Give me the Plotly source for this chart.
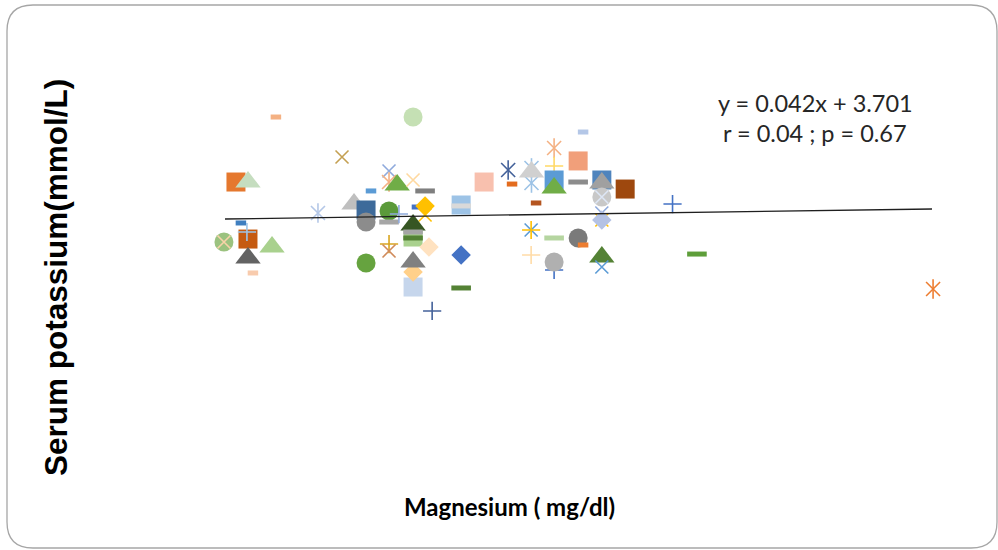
import plotly.graph_objects as go

# ---------------- data (one Excel series per point, drawing order) ----------------
magnesium = [
    1.344, 1.732, 1.531, 1.231, 1.265, 1.245, 1.265, 1.262, 1.197, 1.197,
    1.333, 1.265, 1.279, 1.463, 1.664, 1.664, 1.687, 1.732, 1.613, 1.766,
    1.565, 1.599, 1.599, 1.664, 1.664, 1.692, 1.743, 1.766, 1.766, 1.732,
    1.732, 1.732, 1.732, 1.777, 1.599, 1.664, 1.664, 1.732, 1.732, 1.732,
    1.786, 1.868, 1.868, 1.868, 1.868, 1.933, 2.001, 2.012, 2.067, 2.067,
    2.067, 2.131, 2.131, 2.131, 2.131, 2.213, 2.199, 2.199, 2.080, 2.266,
    2.266, 2.266, 2.266, 2.266, 2.266, 2.266, 2.332, 2.466, 2.066, 2.066,
    2.131, 2.199, 2.213, 2.066, 2.131, 2.131, 2.266, 2.266, 2.535, 3.203,
]
potassium = [
    4.608, 4.608, 4.272, 4.062, 4.062, 3.718, 3.583, 3.642, 3.558, 3.558,
    3.516, 3.424, 3.298, 3.802, 4.155, 4.062, 4.037, 4.079, 3.987, 3.987,
    3.877, 3.827, 3.726, 3.819, 3.726, 3.793, 3.852, 3.785, 3.861, 3.600,
    3.701, 3.642, 3.592, 3.516, 3.382, 3.541, 3.483, 3.180, 3.306, 3.390,
    2.979, 3.869, 3.861, 3.449, 3.172, 4.062, 4.163, 4.045, 4.180, 4.054,
    4.146, 4.348, 4.197, 4.079, 4.012, 4.482, 4.239, 4.062, 3.886, 4.079,
    4.054, 3.936, 3.936, 3.802, 3.743, 3.743, 4.003, 3.877, 3.659, 3.659,
    3.592, 3.592, 3.533, 3.449, 3.323, 3.390, 3.432, 3.348, 3.457, 3.163,
]

# regression shown on the chart
slope = 0.042
intercept = 3.701
trend_x = [1.2, 3.2]

eq_text = "y = 0.042x + 3.701"
stat_text = "r = 0.04 ; p = 0.67"
x_title = "Magnesium ( mg/dl)"
y_title = "Serum potassium(mmol/L)"

# ---------------- styles (marker kind, colour) per series ----------------
styles = [
    ("dashS", "#F4B183"), ("circle", "#C5E0B4"), ("x", "#C4A052"), ("square", "#E5782E"),
    ("triangle", "#C5DDBF"), ("dashS", "#3F7FC0"), ("square", "#C55A11"), ("plus", "#9DC3E6"),
    ("circle", "#9BC27F"), ("x", "#F8D3A8"),
    ("triangle", "#A9D18E"), ("triangle", "#636363"), ("dashS", "#F8CBAD"), ("star", "#B4C7E7"),
    ("x", "#8FAADC"), ("star", "#F4B183"), ("triangle", "#70AD47"), ("x", "#FFD9A0"),
    ("dashS", "#5B9BD5"), ("dash", "#7F7F7F"),
    ("triangle", "#BFBFBF"), ("square", "#3D6A9A"), ("circle", "#8C8C8C"), ("circle", "#5B9A3A"),
    ("dash", "#A6A6A6"), ("plus", "#8FAADC"), ("dashS", "#4472C4"), ("x", "#FFC000"),
    ("diamond", "#FFC000"), ("square", "#A9D18E"),
    ("triangle", "#375623"), ("dash", "#A5A5A5"), ("dash", "#548235"), ("diamond", "#FFE2C0"),
    ("circle", "#66A33F"), ("plus", "#D9A520"), ("x", "#D08B5B"), ("square", "#C6D6EC"),
    ("diamond", "#FFD08A"), ("triangle", "#808080"),
    ("plus", "#44629A"), ("square", "#9DC3E6"), ("dash", "#D9D9D9"), ("diamond", "#4472C4"),
    ("dash", "#548235"), ("square", "#F8C0AE"), ("star", "#44629A"), ("dashS", "#E36C1E"),
    ("star", "#9DC3E6"), ("star", "#9DC3E6"),
    ("triangle", "#D0D0D0"), ("star", "#F4B183"), ("plus", "#FFD966"), ("square", "#5B9BD5"),
    ("triangle", "#70AD47"), ("dashS", "#B4C7E7"), ("square", "#F19F7A"), ("dash", "#8C8C8C"),
    ("dashS", "#B45520"), ("square", "#4F84BD"),
    ("triangle", "#A0A0A0"), ("circle", "#C8C8C8"), ("x", "#DDE6F5"), ("x", "#8FAADC"),
    ("x", "#FFC000"), ("diamond", "#B4C2E4"), ("square", "#9E480E"), ("plus", "#4472C4"),
    ("x", "#5B9BD5"), ("plus", "#FFC000"),
    ("dash", "#B5D5A0"), ("circle", "#7A7A7A"), ("dashS", "#ED7D31"), ("plus", "#FFDCA8"),
    ("plus", "#4472C4"), ("circle", "#B0B0B0"), ("triangle", "#548235"), ("x", "#5B9BD5"),
    ("dash", "#5E9E3A"), ("star", "#ED7D31"),
]

KIND = {
    "square":   [dict(symbol="square", size=19, lw=0)],
    "circle":   [dict(symbol="circle", size=19, lw=0)],
    "triangle": [dict(symbol="triangle-up", size=22, lw=0)],
    "diamond":  [dict(symbol="diamond", size=15, lw=0)],
    "x":        [dict(symbol="x-thin-open", size=13, lw=1.6)],
    "plus":     [dict(symbol="cross-thin-open", size=13, lw=1.6)],
    "star":     [dict(symbol="x-thin-open", size=14, lw=1.6),
                 dict(symbol="line-ns-open", size=14, lw=1.6)],
    "dash":     [dict(symbol="line-ew-open", size=14, lw=5)],
    "dashS":    [dict(symbol="line-ew-open", size=7.5, lw=5)],
}

W, H = 998, 550
ML, MR, MT, MB = 100, 20, 60, 80
PW, PH = W - ML - MR, H - MT - MB


def ux(px):
    return (px - ML) / PW


def vy(py):
    return (H - MB - py) / PH


fig = go.Figure()

for mx, ky, (kind, col) in zip(magnesium, potassium, styles):
    for m in KIND[kind]:
        fig.add_trace(go.Scatter(
            x=[mx], y=[ky], mode="markers", hoverinfo="skip",
            marker=dict(symbol=m["symbol"], size=m["size"], color=col,
                        line=dict(width=m["lw"], color=col)),
        ))

trend_y = [slope * v + intercept for v in trend_x]
fig.add_trace(go.Scatter(x=trend_x, y=trend_y, mode="lines",
                         line=dict(color="#1F1F1F", width=1.3), hoverinfo="skip"))

# rounded chart-area border
x0, x1 = ux(7), ux(997)
yt, yb = vy(5), vy(548)
rx, ry = 26 / PW, 26 / PH
path = (f"M{x0+rx},{yt} L{x1-rx},{yt} Q{x1},{yt} {x1},{yt-ry} "
        f"L{x1},{yb+ry} Q{x1},{yb} {x1-rx},{yb} L{x0+rx},{yb} "
        f"Q{x0},{yb} {x0},{yb+ry} L{x0},{yt-ry} Q{x0},{yt} {x0+rx},{yt} Z")

fig.update_layout(
    width=W, height=H,
    margin=dict(l=ML, r=MR, t=MT, b=MB),
    paper_bgcolor="white", plot_bgcolor="white",
    showlegend=False,
    xaxis=dict(range=[0.8464, 3.3301], visible=False, fixedrange=True),
    yaxis=dict(range=[1.643, 5.087], visible=False, fixedrange=True),
    shapes=[dict(type="path", path=path, xref="paper", yref="paper",
                 line=dict(color="#A6A6A6", width=1.3), fillcolor="rgba(0,0,0,0)",
                 layer="below")],
    annotations=[
        dict(text=y_title, x=ux(56), y=vy(278), xref="paper", yref="paper",
             showarrow=False, textangle=-90, xanchor="center", yanchor="middle",
             font=dict(family="Liberation Sans, Arial", size=31.5, color="#000000", weight="bold")),
        dict(text=x_title, x=ux(509), y=vy(506), xref="paper", yref="paper",
             showarrow=False, xanchor="center", yanchor="middle",
             font=dict(family="Lato", size=24, color="#000000", weight="bold")),
        dict(text=eq_text, x=ux(815), y=vy(103), xref="paper", yref="paper",
             showarrow=False, xanchor="center", yanchor="middle",
             font=dict(family="Lato", size=23.5, color="#262626")),
        dict(text=stat_text, x=ux(815), y=vy(133), xref="paper", yref="paper",
             showarrow=False, xanchor="center", yanchor="middle",
             font=dict(family="Lato", size=23.5, color="#262626")),
    ],
)

fig.write_html("out.html", config={"displayModeBar": False})
